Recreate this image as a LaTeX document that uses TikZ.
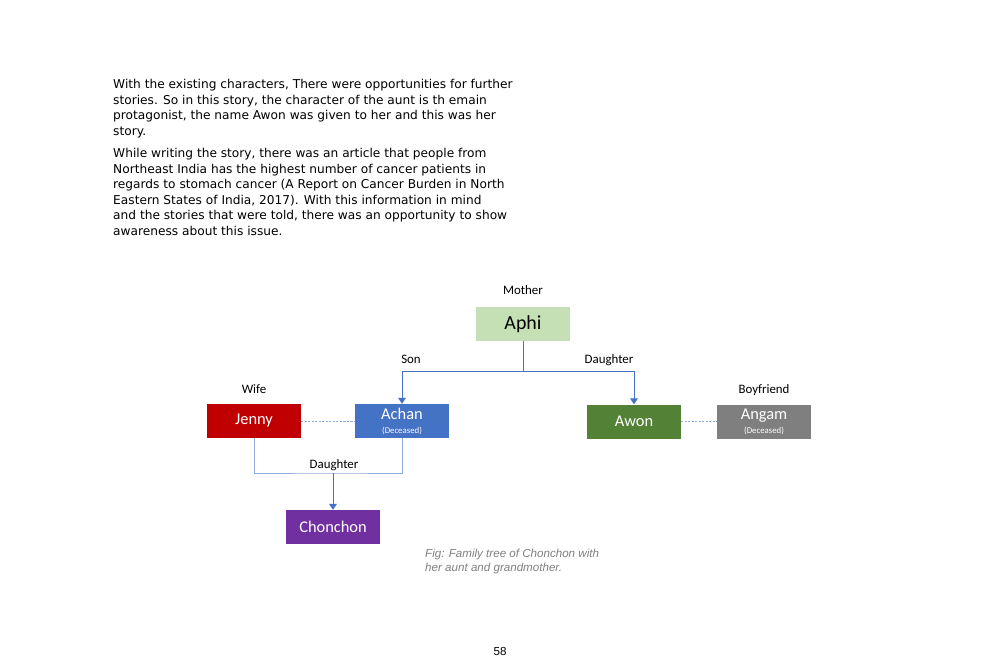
\documentclass[tikz,border=0pt]{standalone}
\usepackage{fontspec}
\setmainfont{Liberation Sans}
\newfontfamily\storyfont{DejaVu Sans}
\newfontfamily\calibri{Carlito}
\usetikzlibrary{positioning,arrows.meta}

\definecolor{linkblue}{HTML}{4472C4}
\definecolor{paleblue}{HTML}{8FAADC}
\definecolor{aphigreen}{HTML}{C5E0B4}
\definecolor{awongreen}{HTML}{538135}
\definecolor{jennyred}{HTML}{C00000}
\definecolor{angamgray}{HTML}{7F7F7F}
\definecolor{chonpurple}{HTML}{7030A0}
\definecolor{captiongray}{HTML}{7F7F7F}

\tikzset{
  person/.style = {minimum width=2.82cm, minimum height=1.02cm, inner sep=0pt,
                   align=center, text=white, font=\calibri\fontsize{14}{15}\selectfont},
  relation/.style = {font=\calibri\fontsize{11}{12}\selectfont, inner sep=1pt,
                     text height=1.5ex, text depth=0.4ex},
  story/.style = {anchor=north west, inner sep=0pt, align=left,
                  font=\storyfont\fontsize{10.4}{13.25}\selectfont},
  tree/.style = {draw=linkblue, line width=0.8pt},
  bracket/.style = {draw=paleblue, line width=0.8pt},
  partner/.style = {draw=paleblue, line width=0.8pt, dash pattern=on 1.8pt off 1.2pt},
  down/.style = {-{Triangle[length=5pt,width=6.5pt]}}
}

\newcommand{\dead}{\\[-3pt]{\fontsize{7.5}{8}\selectfont(Deceased)}}

\begin{document}
\begin{tikzpicture}[x=0.03cm, y=-0.03cm, node distance=0.3cm]
\useasboundingbox (0,0) rectangle (1000,667);

% story text
\node[story] (story) at (113,79)
{With the existing characters, There were opportunities for further\\
stories. So in this story, the character of the aunt is th emain\\
protagonist, the name Awon was given to her and this was her\\
story.};
\node[story] (article) at (113,148)
{While writing the story, there was an article that people from\\
Northeast India has the highest number of cancer patients in\\
regards to stomach cancer (A Report on Cancer Burden in North\\
Eastern States of India, 2017). With this information in mind\\
and the stories that were told, there was an opportunity to show\\
awareness about this issue.};

% family members
\node[person, fill=aphigreen, text=black, font=\calibri\fontsize{17}{18}\selectfont] (aphi) at (523,324) {Aphi};
\node[person, fill=linkblue] (achan) at (402,421) {Achan\dead};
\node[person, fill=jennyred] (jenny) at (254,421) {Jenny};
\node[person, fill=awongreen] (awon) at (634,421.5) {Awon};
\node[person, fill=angamgray] (angam) at (764,421.5) {Angam\dead};
\node[person, fill=chonpurple] (chonchon) at (333,527) {Chonchon};

% relations
\node[relation, above=0.25cm of aphi] (mother) {Mother};
\node[relation, above=0.2cm of jenny] (wife) {Wife};
\node[relation, above=0.2cm of angam] (boyfriend) {Boyfriend};
\node[relation] (son) at (411,360) {Son};
\node[relation] (daughterA) at (609,360) {Daughter};
\node[relation] (daughterC) at (334,465) {Daughter};

% links
\coordinate (fork) at (aphi.south |- 0,371);
\draw[tree] (aphi.south) -- (fork);
\draw[tree, down] (fork) -| (achan.north);
\draw[tree, down] (fork) -| (awon.north);
\draw[partner] (jenny.east) -- (achan.west);
\draw[partner] (awon.east) -- (angam.west);
\coordinate (join) at (chonchon.north |- 0,473);
\draw[bracket] (jenny.south) |- (join) -| (achan.south);
\draw[tree, down] (join) -- (chonchon.north);

% caption and page
\node[anchor=north west, inner sep=0pt, align=left, text=captiongray,
      font=\fontsize{9.9}{11.5}\itshape\selectfont] (caption) at (425,549)
{Fig: Family tree of Chonchon with\\her aunt and grandmother.};
\node[font=\fontsize{9.9}{12}\selectfont] (page) at (500,651) {58};
\end{tikzpicture}
\end{document}
